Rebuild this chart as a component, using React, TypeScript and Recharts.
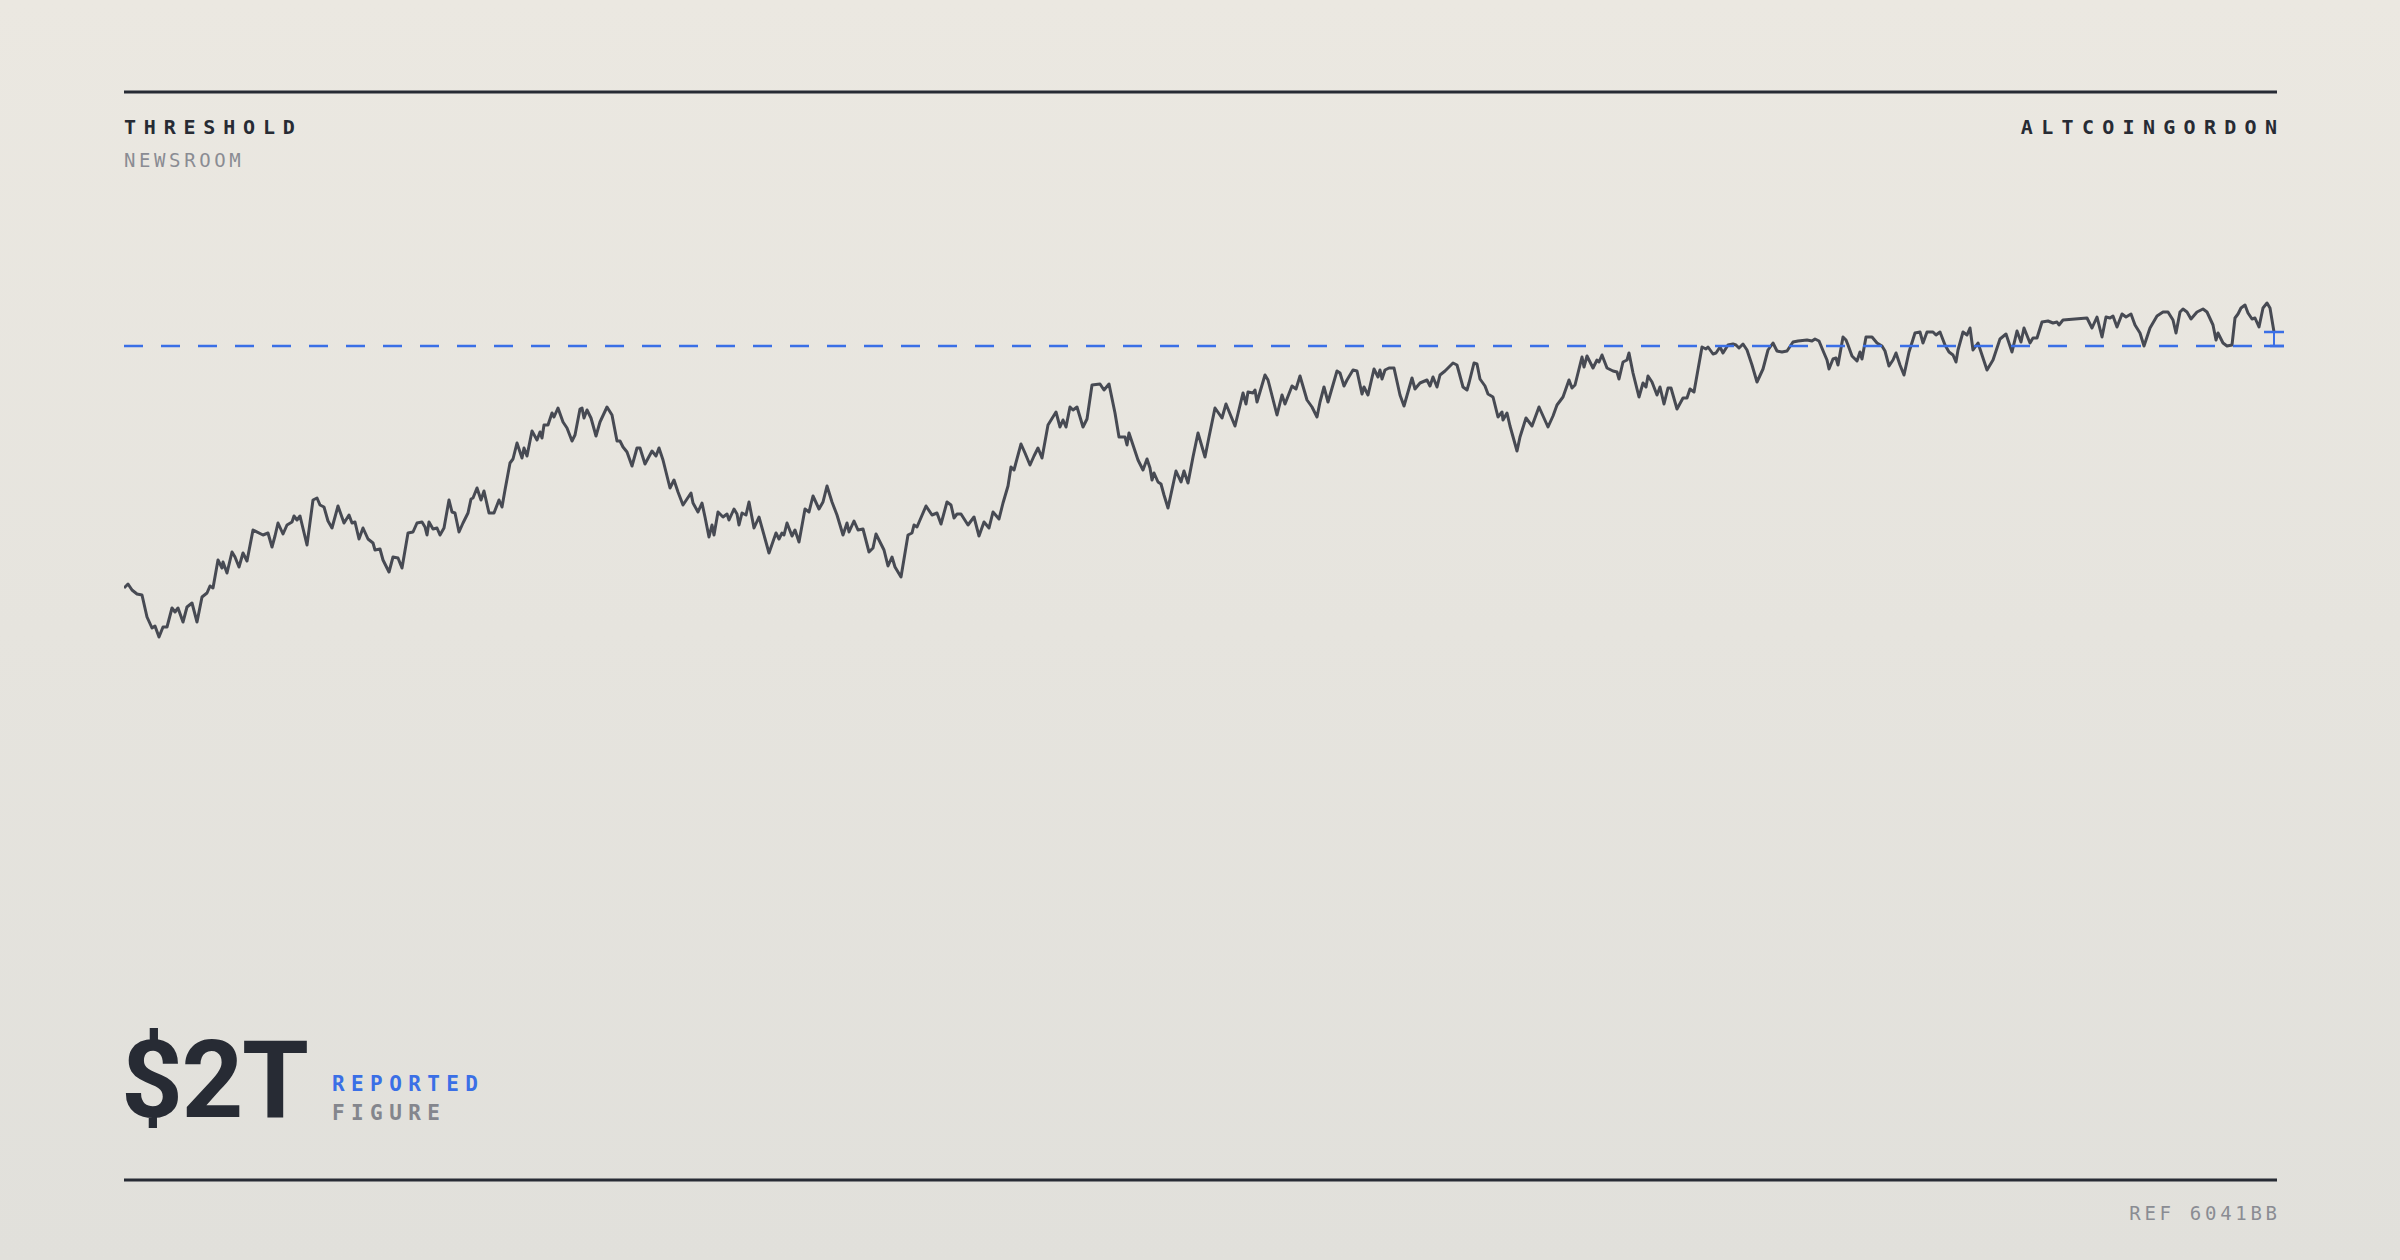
import { LineChart, Line, XAxis, YAxis, ReferenceLine } from 'recharts';

const days = [
  0, 4, 8, 13, 18, 23, 28, 31, 35, 39,
  43, 48, 51, 54, 59, 63, 68, 73, 78, 83,
  86, 89, 94, 98, 99, 103, 108, 111, 115, 119,
  123, 129, 139, 144, 148, 151, 154, 159, 163, 168,
  170, 173, 176, 183, 189, 193, 196, 200, 204, 208,
  214, 220, 225, 228, 231, 235, 239, 244, 249, 251,
  256, 259, 265, 269, 274, 278, 284, 289, 293, 298,
  301, 303, 305, 309, 313, 316, 320, 325, 328, 331,
  335, 339, 344, 347, 349, 353, 357, 360, 365,
  370, 375, 378, 381, 386, 389, 393, 398, 400, 403,
  408, 413, 416, 418, 420, 424, 428, 430, 434, 439,
  443, 448, 451, 456, 458, 460, 463, 467, 472, 476,
  483, 488, 493, 496, 499, 503, 508, 513, 516, 521,
  528, 532, 535, 539, 546, 550, 554, 559, 567, 569,
  574, 578, 581, 585, 588, 590, 594, 599, 603, 605,
  610, 613, 615, 618, 622, 625, 630, 635, 645, 652,
  655, 658, 660, 663, 668, 671, 675, 681, 685, 689,
  695, 699, 703, 708, 713, 719, 723, 725,
  730, 734, 739, 745, 749, 752, 756, 760, 764, 768,
  771, 777, 784, 788, 790, 793, 796, 802, 808, 813,
  817, 823, 827, 830, 833, 837, 844, 850, 855, 860,
  865, 869, 875, 879, 884, 887, 890, 897, 901, 906,
  910, 914, 918, 924, 932, 936, 939, 942, 946, 949,
  953, 959, 963, 968, 976, 980, 985, 991, 995, 1001,
  1003, 1005, 1009, 1014, 1019, 1023, 1026, 1028, 1030, 1034,
  1037, 1040, 1044, 1052, 1057, 1060, 1064, 1069, 1074, 1081,
  1085,
  1091, 1098, 1102, 1111, 1119, 1122, 1124, 1129, 1131, 1133,
  1141, 1144, 1153, 1158, 1161, 1168, 1172, 1176, 1183, 1188,
  1193, 1196, 1200, 1204, 1213, 1216, 1220, 1223, 1229, 1233,
  1238, 1240, 1244, 1250, 1254, 1256, 1258, 1261, 1265, 1270,
  1276, 1280, 1288, 1291, 1296, 1303, 1306, 1309, 1313, 1316,
  1321, 1329, 1333, 1339, 1343, 1345, 1350, 1353, 1356, 1361,
  1364, 1369, 1374, 1378, 1379, 1383, 1386, 1393, 1396, 1402,
  1408, 1415, 1424, 1429, 1433, 1439, 1445,
  1448, 1451, 1458, 1460, 1463, 1469, 1473, 1475, 1478, 1483,
  1489, 1493, 1495, 1499, 1503, 1505, 1509, 1515, 1519, 1522,
  1524, 1528, 1533, 1536, 1540, 1544, 1547, 1553, 1559, 1563,
  1566, 1570, 1578, 1582, 1584, 1589, 1592, 1596, 1599, 1604,
  1609, 1612, 1615, 1619, 1623, 1628, 1633, 1639, 1644, 1649,
  1653, 1658, 1663, 1669, 1674, 1683, 1688, 1691, 1695, 1700,
  1703, 1705, 1709, 1712, 1714, 1719, 1722, 1724, 1728, 1733,
  1736, 1738, 1742, 1748, 1753, 1758, 1761, 1765, 1769, 1772,
  1776, 1780, 1785, 1791, 1796, 1799, 1803,
  1809, 1812, 1816, 1821, 1825, 1829, 1832, 1834, 1839, 1843,
  1846, 1849, 1854, 1863, 1869, 1876, 1882, 1888, 1893, 1897,
  1900, 1906, 1909, 1913, 1918, 1924, 1929, 1933, 1935, 1939,
  1951, 1963, 1968, 1973, 1978, 1982, 1986, 1989, 1993, 1998,
  2002, 2007, 2011, 2016, 2020, 2026, 2033, 2039, 2044, 2049,
  2052, 2056, 2059, 2063, 2067, 2073, 2079, 2083, 2089, 2092,
  2094, 2099, 2103, 2108, 2111, 2114, 2117, 2121, 2124, 2128,
  2131, 2135, 2139, 2143, 2146, 2150,
];

// market cap, $ billions
const marketCapB = [
  1032, 1048, 1024, 1008, 1004, 916, 872, 880, 836, 876,
  876, 952, 936, 952, 896, 956, 972, 896, 996, 1012,
  1040, 1032, 1144, 1112, 1136, 1092, 1176, 1156, 1116, 1172,
  1140, 1264, 1244, 1252, 1196, 1240, 1292, 1248, 1284, 1296,
  1320, 1304, 1320, 1204, 1384, 1392, 1364, 1356, 1300, 1272,
  1360, 1292, 1324, 1292, 1296, 1228, 1272, 1228, 1212, 1184,
  1188, 1144, 1096, 1156, 1152, 1112, 1252, 1256, 1292, 1296,
  1276, 1244, 1296, 1268, 1272, 1244, 1272, 1384, 1336, 1332,
  1256, 1292, 1332, 1388, 1392, 1432, 1384, 1420, 1332,
  1332, 1384, 1356, 1424, 1532, 1548, 1612, 1552, 1592, 1560,
  1660, 1624, 1656, 1632, 1684, 1684, 1732, 1716, 1752, 1696,
  1672, 1620, 1644, 1748, 1752, 1712, 1744, 1712, 1640, 1696,
  1756, 1724, 1620, 1620, 1596, 1576, 1520, 1592, 1592, 1528,
  1580, 1560, 1592, 1544, 1432, 1464, 1416, 1364, 1412, 1372,
  1336, 1372, 1316, 1236, 1284, 1244, 1336, 1316, 1328, 1304,
  1348, 1328, 1284, 1332, 1324, 1376, 1272, 1316, 1172, 1252,
  1228, 1252, 1244, 1292, 1240, 1264, 1216, 1348, 1336, 1400,
  1348, 1376, 1440, 1376, 1324, 1244, 1292, 1256,
  1300, 1264, 1268, 1176, 1192, 1248, 1216, 1184, 1120, 1156,
  1116, 1076, 1244, 1252, 1284, 1276, 1304, 1360, 1324, 1332,
  1288, 1376, 1364, 1312, 1328, 1328, 1284, 1316, 1240, 1296,
  1272, 1336, 1308, 1372, 1440, 1516, 1504, 1608, 1572, 1524,
  1560, 1592, 1552, 1684, 1736, 1676, 1704, 1676, 1756, 1744,
  1756, 1676, 1708, 1844, 1848, 1824, 1848, 1732, 1636, 1636,
  1604, 1652, 1604, 1544, 1504, 1548, 1512, 1464, 1492, 1456,
  1448, 1404, 1352, 1500, 1456, 1500, 1452, 1556, 1652, 1556,
  1636,
  1752, 1712, 1768, 1680, 1812, 1768, 1816, 1812, 1824, 1776,
  1884, 1864, 1724, 1804, 1768, 1840, 1828, 1880, 1784, 1756,
  1716, 1776, 1836, 1776, 1900, 1892, 1840, 1864, 1904, 1900,
  1808, 1836, 1804, 1908, 1876, 1904, 1868, 1904, 1912, 1912,
  1804, 1760, 1872, 1828, 1852, 1864, 1840, 1876, 1836, 1884,
  1900, 1932, 1924, 1836, 1824, 1852, 1932, 1928, 1868, 1840,
  1808, 1796, 1716, 1736, 1704, 1732, 1680, 1580, 1636, 1712,
  1680, 1756, 1676, 1720, 1764, 1796, 1864,
  1832, 1844, 1956, 1916, 1960, 1912, 1944, 1936, 1964, 1912,
  1900, 1896, 1868, 1936, 1944, 1972, 1892, 1796, 1852, 1836,
  1880, 1856, 1804, 1836, 1768, 1832, 1832, 1748, 1792, 1792,
  1828, 1816, 1996, 1988, 1996, 1968, 1972, 1996, 1972, 2004,
  2008, 2004, 1992, 2008, 1984, 1924, 1856, 1908, 1984, 2012,
  1980, 1976, 1980, 2016, 2020, 2024, 2020, 2028, 2020, 1972,
  1944, 1908, 1948, 1952, 1924, 2036, 2024, 2004, 1960, 1940,
  1976, 1948, 2036, 2036, 2012, 2000, 1980, 1920, 1944, 1972,
  1924, 1884, 1976, 2052, 2056, 2012, 2056,
  2056, 2044, 2056, 2004, 1976, 1964, 1936, 1984, 2056, 2044,
  2072, 1984, 2012, 1904, 1944, 2028, 2048, 1976, 2060, 2016,
  2072, 2012, 2032, 2032, 2096, 2100, 2092, 2096, 2084, 2104,
  2108, 2112, 2072, 2116, 2036, 2116, 2112, 2120, 2076, 2128,
  2116, 2128, 2084, 2052, 2000, 2072, 2120, 2136, 2136, 2104,
  2052, 2136, 2148, 2136, 2108, 2136, 2148, 2136, 2084, 2024,
  2052, 2012, 2000, 2004, 2112, 2128, 2152, 2164, 2132, 2108,
  2112, 2076, 2152, 2172, 2152, 2056,
];

const thresholdB = 2000;
const headline = '$2T';

const data = days
  .slice(0, marketCapB.length)
  .map((day, i) => ({ day, cap: marketCapB[i] }));

const INK = '#272b34';
const MUTED = '#8a8c93';
const BLUE = '#3a6fe6';
const MONO = '"DejaVu Sans Mono", monospace';

export default function App() {
  const last = data[data.length - 1];
  const capHalf = 10;

  return (
    <div
      style={{
        position: 'absolute',
        left: 0,
        top: 0,
        width: 2400,
        height: 1260,
        overflow: 'hidden',
        background: 'linear-gradient(180deg, #ebe8e1 0%, #e1e0db 100%)',
      }}
    >
      <svg width={2400} height={1260} style={{ position: 'absolute', left: 0, top: 0 }}>
        <line x1={124} x2={2277} y1={92} y2={92} stroke={INK} strokeWidth={3} />
        <line x1={124} x2={2277} y1={1180} y2={1180} stroke={INK} strokeWidth={3} />

        <text x={124} y={134} fill={INK} fontFamily={MONO} fontWeight={700} fontSize={20} style={{ letterSpacing: 7.8 }}>
          THRESHOLD
        </text>
        <text x={124} y={167} fill={MUTED} fontFamily={MONO} fontSize={19} style={{ letterSpacing: 3.6 }}>
          NEWSROOM
        </text>
        <text x={2277 + 8.3} y={134} textAnchor="end" fill={INK} fontFamily={MONO} fontWeight={700} fontSize={20} style={{ letterSpacing: 8.3 }}>
          ALTCOINGORDON
        </text>

        <text x={121} y={1117} fill={INK} fontFamily="Roboto, sans-serif" fontWeight={700} fontSize={108} style={{ letterSpacing: -1.5 }}>
          {headline}
        </text>
        <text x={332} y={1091} fill={BLUE} fontFamily={MONO} fontWeight={700} fontSize={21} style={{ letterSpacing: 6.4 }}>
          REPORTED
        </text>
        <text x={332} y={1120} fill="#84868d" fontFamily={MONO} fontWeight={700} fontSize={21} style={{ letterSpacing: 6.4 }}>
          FIGURE
        </text>

        <text x={2277 + 3.7} y={1220} textAnchor="end" fill={MUTED} fontFamily={MONO} fontSize={19} style={{ letterSpacing: 3.7 }}>
          REF 6041BB
        </text>
      </svg>

      <div style={{ position: 'absolute', left: 124, top: 246 }}>
        <LineChart width={2160} height={450} data={data} margin={{ top: 0, right: 0, bottom: 0, left: 0 }}>
          <XAxis type="number" dataKey="day" domain={[0, 2160]} hide />
          <YAxis type="number" domain={[600, 2400]} hide />
          <Line
            type="linear"
            dataKey="cap"
            stroke="#474a53"
            strokeWidth={3}
            strokeLinejoin="round"
            dot={false}
            activeDot={false}
            isAnimationActive={false}
          />
          <ReferenceLine y={thresholdB} stroke={BLUE} strokeWidth={2.5} strokeDasharray="19 18" />
          <ReferenceLine
            segment={[{ x: last.day, y: last.cap }, { x: last.day, y: thresholdB }]}
            stroke={BLUE}
            strokeWidth={2}
          />
          <ReferenceLine
            segment={[{ x: last.day - capHalf, y: last.cap }, { x: last.day + capHalf, y: last.cap }]}
            stroke={BLUE}
            strokeWidth={2.5}
          />
          <ReferenceLine
            segment={[{ x: last.day - capHalf, y: thresholdB }, { x: last.day + capHalf, y: thresholdB }]}
            stroke={BLUE}
            strokeWidth={2.5}
          />
        </LineChart>
      </div>
    </div>
  );
}
